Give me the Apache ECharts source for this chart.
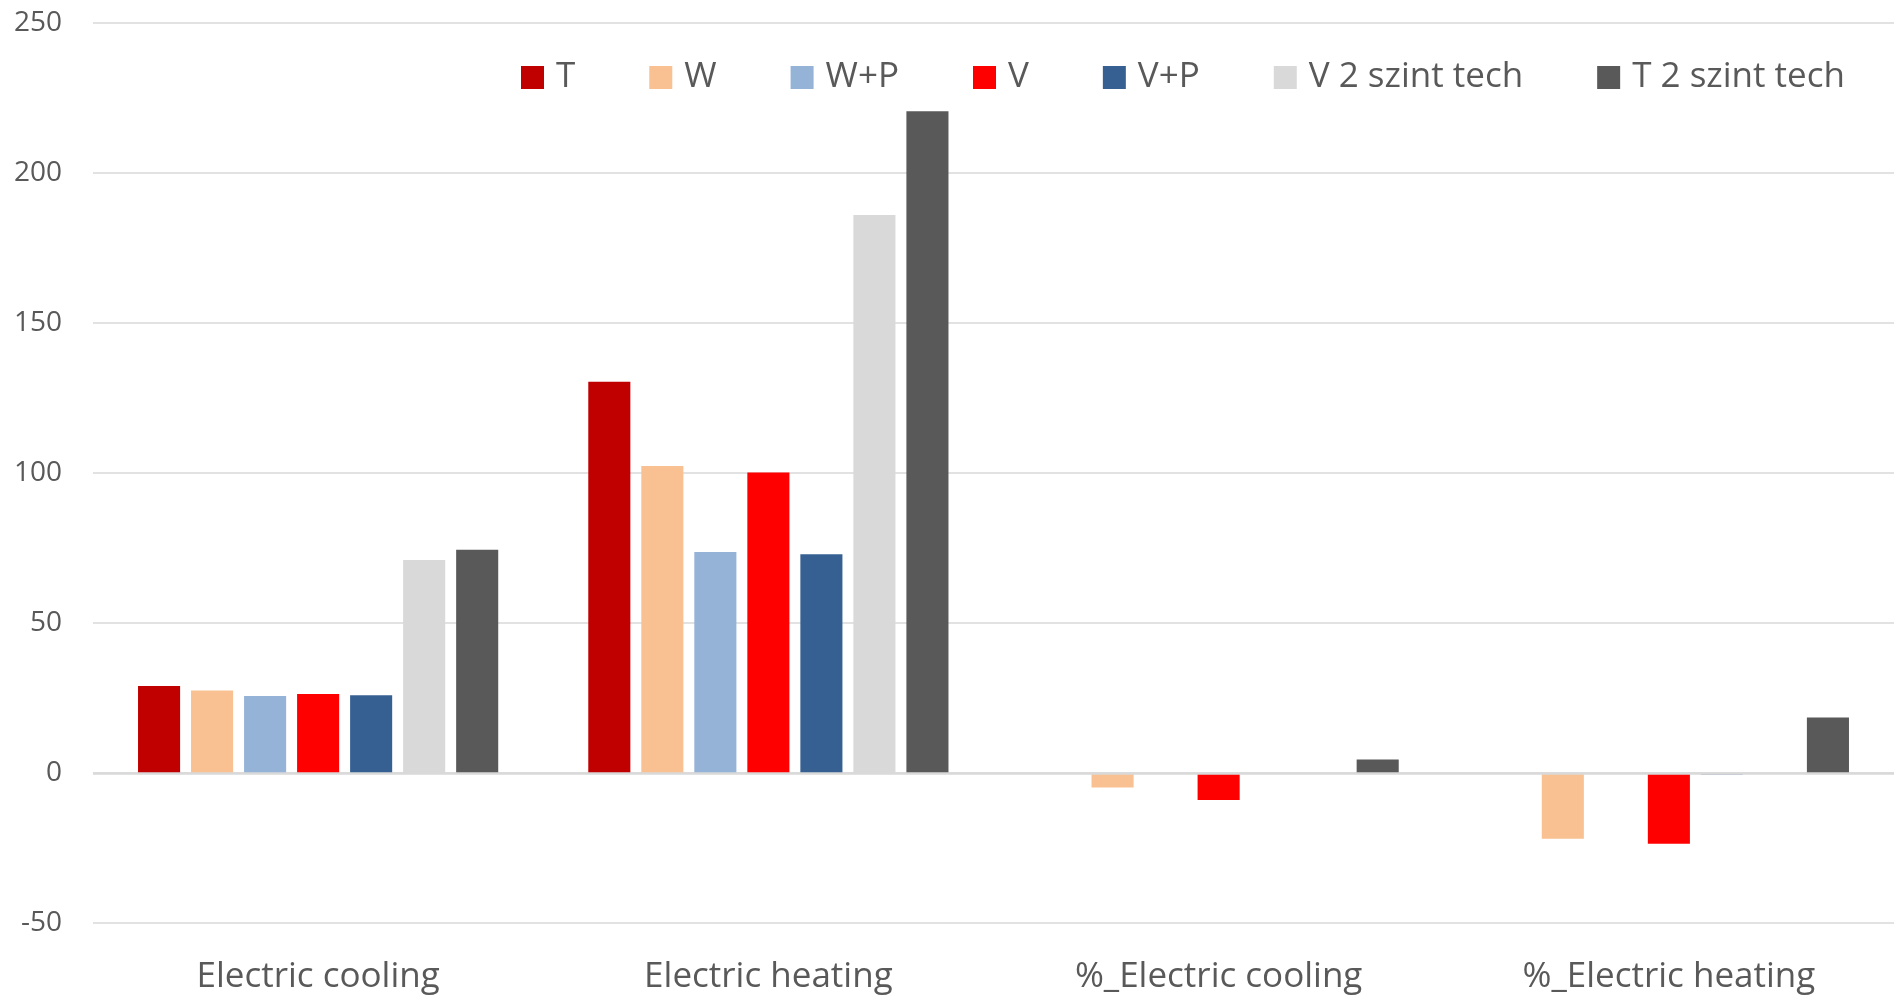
<!DOCTYPE html>
<html>
<head>
<meta charset="utf-8">
<script src="https://cdn.jsdelivr.net/npm/echarts@6/dist/echarts.min.js"></script>
<style>
  html, body { margin: 0; padding: 0; background: #fff; }
  #chart { width: 1894px; height: 995px; }
</style>
</head>
<body>
<div id="chart"></div>
<script>
  // categories and series
  let categories = ['Electric cooling', 'Electric heating', '%_Electric cooling', '%_Electric heating']
  let seriesNames = ['T', 'W', 'W+P', 'V', 'V+P', 'V 2 szint tech', 'T 2 szint tech']
  let seriesColors = ['#C00000', '#F9C191', '#95B3D7', '#FF0000', '#366092', '#D9D9D9', '#595959']
  let T = [29.0, 130.4, 0, 0]
  let W = [27.5, 102.3, -4.8, -21.9]
  let WP = [25.7, 73.7, 0, 0]
  let V = [26.3, 100.2, -9.0, -23.6]
  let VP = [25.9, 72.9, 0, -0.5]
  let V2 = [71.0, 186.0, 0, 0]
  let T2 = [74.4, 220.6, 4.5, 18.5]
  let seriesData = [T, W, WP, V, VP, V2, T2]

  let yTicks = { min: -50, max: 250, interval: 50 }

  let textColor = '#595959'
  let font = '"Open Sans", "Liberation Sans", sans-serif'

  let myChart = echarts.init(document.getElementById('chart'))

  let series = seriesNames.map((name, i) => ({
    name: name,
    type: 'bar',
    data: seriesData[i],
    barGap: '26%',
    barCategoryGap: '20%',
    itemStyle: { color: seriesColors[i] },
    emphasis: { disabled: true }
  }))
  // zero line, a bit heavier than the grid lines
  series[0].markLine = {
    silent: true,
    symbol: 'none',
    label: { show: false },
    lineStyle: { color: '#D9D9D9', width: 2.5, type: 'solid' },
    data: [{ yAxis: 0 }]
  }

  let option = {
    animation: false,
    backgroundColor: '#fff',
    textStyle: { fontFamily: font },
    legend: {
      left: 521,
      top: 60,
      padding: 0,
      itemWidth: 23,
      itemHeight: 23,
      itemGap: 74,
      icon: 'rect',
      textStyle: { color: textColor, fontSize: 35, fontFamily: font, padding: [0, 0, 0, 7] },
      data: seriesNames
    },
    grid: {
      left: 93,
      right: 0,
      top: 23,
      bottom: 72,
      containLabel: false
    },
    xAxis: {
      type: 'category',
      data: categories,
      axisLine: { show: false, onZero: false },
      axisTick: { show: false },
      axisLabel: { color: textColor, fontSize: 35, margin: 37 }
    },
    yAxis: {
      type: 'value',
      min: yTicks.min,
      max: yTicks.max,
      interval: yTicks.interval,
      axisLine: { show: false },
      axisTick: { show: false },
      axisLabel: { color: textColor, fontSize: 28, margin: 31 },
      splitLine: { lineStyle: { color: '#D9D9D9', width: 1.5 } }
    },
    series: series
  }

  myChart.setOption(option)
</script>
</body>
</html>
